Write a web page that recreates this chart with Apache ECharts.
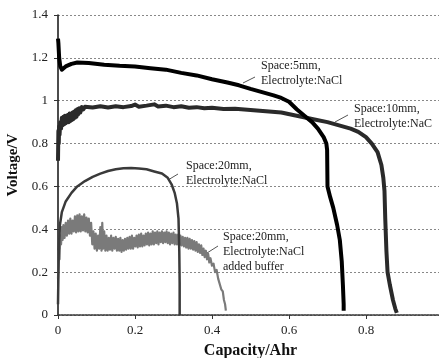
<!DOCTYPE html>
<html>
<head>
<meta charset="utf-8">
<script src="https://cdn.jsdelivr.net/npm/echarts@6/dist/echarts.min.js"></script>
<style>
  html, body { margin: 0; padding: 0; background: #fff; }
  #chart { width: 439px; height: 358px; }
</style>
</head>
<body>
<div id="chart"></div>
<script>
// capacity (Ahr) / voltage (V) pairs
const space5mm = [
  [0, 1.29], [0.001, 1.27], [0.003, 1.2], [0.006, 1.16], [0.01, 1.145], [0.02, 1.16],
  [0.035, 1.172], [0.05, 1.178], [0.08, 1.176], [0.12, 1.168], [0.16, 1.163], [0.2, 1.16],
  [0.24, 1.152], [0.28, 1.145], [0.32, 1.13], [0.36, 1.118], [0.4, 1.1], [0.44, 1.085],
  [0.47, 1.072], [0.5, 1.055], [0.53, 1.04], [0.56, 1.025], [0.58, 1.013], [0.6, 0.995],
  [0.62, 0.96], [0.64, 0.93], [0.66, 0.9], [0.675, 0.87], [0.69, 0.83], [0.697, 0.8],
  [0.699, 0.77], [0.7, 0.6], [0.707, 0.55], [0.715, 0.5], [0.725, 0.42], [0.732, 0.35],
  [0.737, 0.25], [0.74, 0.14], [0.742, 0.05], [0.742, 0.02]
]
const space10mm = [
  [0, 0.72], [0.001, 0.86], [0.002, 0.8], [0.003, 0.88], [0.004, 0.84], [0.006, 0.9],
  [0.008, 0.87], [0.01, 0.92], [0.012, 0.885], [0.014, 0.925], [0.016, 0.89], [0.018, 0.93],
  [0.02, 0.895], [0.022, 0.93], [0.024, 0.9], [0.026, 0.935], [0.028, 0.9], [0.03, 0.94],
  [0.032, 0.905], [0.034, 0.94], [0.036, 0.91], [0.038, 0.945], [0.04, 0.915], [0.042, 0.95],
  [0.044, 0.92], [0.046, 0.955], [0.048, 0.925], [0.05, 0.96], [0.052, 0.935], [0.055, 0.965],
  [0.058, 0.945], [0.062, 0.97], [0.066, 0.96], [0.07, 0.972], [0.09, 0.968], [0.11, 0.974],
  [0.13, 0.968], [0.15, 0.974], [0.17, 0.97], [0.19, 0.975], [0.2, 0.982], [0.21, 0.972],
  [0.23, 0.977], [0.25, 0.983], [0.26, 0.973], [0.28, 0.977], [0.3, 0.97], [0.32, 0.974],
  [0.34, 0.967], [0.36, 0.97], [0.38, 0.965], [0.4, 0.967], [0.43, 0.961], [0.46, 0.963],
  [0.5, 0.957], [0.54, 0.951], [0.58, 0.945], [0.62, 0.93], [0.66, 0.915], [0.7, 0.9],
  [0.73, 0.885], [0.76, 0.87], [0.78, 0.855], [0.8, 0.83], [0.815, 0.8], [0.83, 0.76],
  [0.84, 0.7], [0.845, 0.64], [0.848, 0.58], [0.85, 0.45], [0.853, 0.3], [0.856, 0.2],
  [0.862, 0.14], [0.87, 0.07], [0.876, 0.03], [0.88, 0.01]
]
const space20mm = [
  [0, 0.05], [0.002, 0.3], [0.005, 0.42], [0.01, 0.48], [0.02, 0.53], [0.035, 0.57],
  [0.05, 0.6], [0.07, 0.625], [0.09, 0.645], [0.11, 0.66], [0.13, 0.672], [0.15, 0.68],
  [0.17, 0.685], [0.19, 0.686], [0.21, 0.684], [0.23, 0.68], [0.25, 0.67], [0.27, 0.66],
  [0.285, 0.64], [0.295, 0.61], [0.303, 0.57], [0.309, 0.52], [0.313, 0.45], [0.315, 0.3],
  [0.316, 0.15], [0.316, 0]
]
const space20mmBuffer = [
  [0, 0.17], [0.002, 0.3], [0.004, 0.26], [0.006, 0.37], [0.008, 0.33], [0.01, 0.41],
  [0.012, 0.35], [0.014, 0.42], [0.017, 0.36], [0.02, 0.43], [0.023, 0.37], [0.026, 0.44],
  [0.029, 0.38], [0.032, 0.45], [0.035, 0.38], [0.038, 0.44], [0.041, 0.39], [0.044, 0.46],
  [0.047, 0.385], [0.05, 0.465], [0.053, 0.39], [0.056, 0.47], [0.059, 0.39], [0.062, 0.46],
  [0.065, 0.395], [0.068, 0.47], [0.071, 0.39], [0.074, 0.455], [0.077, 0.385], [0.08, 0.45],
  [0.083, 0.37], [0.086, 0.43], [0.089, 0.33], [0.092, 0.39], [0.095, 0.31], [0.098, 0.38],
  [0.101, 0.3], [0.104, 0.37], [0.107, 0.31], [0.11, 0.41], [0.113, 0.3], [0.115, 0.43],
  [0.117, 0.31], [0.12, 0.39], [0.123, 0.3], [0.126, 0.37], [0.129, 0.3], [0.132, 0.36],
  [0.135, 0.305], [0.138, 0.37], [0.141, 0.3], [0.144, 0.36], [0.147, 0.31], [0.15, 0.365],
  [0.153, 0.3], [0.156, 0.355], [0.159, 0.3], [0.162, 0.36], [0.165, 0.295], [0.168, 0.35],
  [0.171, 0.3], [0.174, 0.355], [0.177, 0.305], [0.18, 0.36], [0.183, 0.31], [0.186, 0.365],
  [0.189, 0.31], [0.192, 0.37], [0.195, 0.31], [0.198, 0.36], [0.201, 0.32], [0.204, 0.37],
  [0.207, 0.315], [0.21, 0.375], [0.213, 0.32], [0.216, 0.38], [0.219, 0.32], [0.222, 0.37],
  [0.225, 0.325], [0.228, 0.38], [0.231, 0.33], [0.234, 0.385], [0.237, 0.325], [0.24, 0.38],
  [0.243, 0.33], [0.246, 0.39], [0.249, 0.33], [0.252, 0.385], [0.255, 0.335], [0.258, 0.39],
  [0.261, 0.33], [0.264, 0.385], [0.267, 0.34], [0.27, 0.39], [0.273, 0.335], [0.276, 0.385],
  [0.279, 0.34], [0.282, 0.39], [0.285, 0.335], [0.288, 0.385], [0.291, 0.33], [0.294, 0.38],
  [0.297, 0.335], [0.3, 0.385], [0.303, 0.33], [0.306, 0.375], [0.309, 0.33], [0.312, 0.375],
  [0.315, 0.325], [0.318, 0.37], [0.321, 0.325], [0.324, 0.365], [0.327, 0.32], [0.33, 0.36],
  [0.333, 0.315], [0.336, 0.36], [0.339, 0.31], [0.342, 0.355], [0.345, 0.31], [0.348, 0.35],
  [0.351, 0.305], [0.354, 0.345], [0.357, 0.3], [0.36, 0.34], [0.363, 0.295], [0.366, 0.33],
  [0.369, 0.29], [0.372, 0.325], [0.375, 0.28], [0.378, 0.31], [0.381, 0.27], [0.384, 0.3],
  [0.387, 0.26], [0.39, 0.285], [0.393, 0.245], [0.396, 0.265], [0.4, 0.23], [0.404, 0.24],
  [0.408, 0.2], [0.412, 0.21], [0.416, 0.17], [0.42, 0.165], [0.424, 0.12], [0.428, 0.11],
  [0.431, 0.07], [0.434, 0.05], [0.436, 0.02]
]

const serif = '"Liberation Serif", "DejaVu Serif", serif'

const myChart = echarts.init(document.getElementById('chart'))

const line = (data, color, width) => ({
  type: 'line',
  data,
  showSymbol: false,
  silent: true,
  lineStyle: { color, width, join: 'round' },
  z: 3
})

// 标注文字 + 引线
const note = (x, y, lines) => ({
  type: 'text',
  left: x,
  top: y,
  style: { text: lines.join('\n'), font: '12px ' + serif, fill: '#222', lineHeight: 15 }
})
const lead = (x1, y1, x2, y2) => ({
  type: 'line',
  shape: { x1, y1, x2, y2 },
  style: { stroke: '#555', lineWidth: 1 }
})

myChart.setOption({
  animation: false,
  grid: { left: 58, top: 15, width: 385, height: 300, outerBoundsMode: 'none' },
  xAxis: {
    type: 'value',
    min: 0,
    max: 1,
    interval: 0.2,
    name: 'Capacity/Ahr',
    nameLocation: 'middle',
    nameGap: 28,
    nameTextStyle: { fontFamily: serif, fontWeight: 'bold', fontSize: 16, color: '#111' },
    axisLine: { show: true, lineStyle: { color: '#333', width: 1.5, type: [2, 1] } },
    axisTick: { show: true, length: 4, lineStyle: { color: '#333' } },
    axisLabel: { fontFamily: serif, fontSize: 13, color: '#222', margin: 9 },
    splitLine: { show: false }
  },
  yAxis: {
    type: 'value',
    min: 0,
    max: 1.4,
    interval: 0.2,
    name: 'Voltage/V',
    nameLocation: 'middle',
    nameGap: 33,
    nameTextStyle: { fontFamily: serif, fontWeight: 'bold', fontSize: 15, color: '#111' },
    axisLine: { show: true, lineStyle: { color: '#111', width: 1.5 } },
    axisTick: { show: true, length: 4, lineStyle: { color: '#333' } },
    axisLabel: { fontFamily: serif, fontSize: 13, color: '#222', margin: 10 },
    splitLine: { show: true, lineStyle: { color: '#888', width: 1, type: [2, 2] } }
  },
  series: [
    line(space20mmBuffer, '#7a7a7a', 2.2),
    line(space20mm, '#3a3a3a', 2.5),
    line(space10mm, '#2a2a2a', 4),
    line(space5mm, '#000', 4)
  ],
  graphic: [
    note(261, 58, ['Space:5mm,', 'Electrolyte:NaCl']),
    lead(243, 83, 255, 77),
    note(354, 101, ['Space:10mm,', 'Electrolyte:NaC']),
    lead(335, 122, 348, 115),
    note(186, 158, ['Space:20mm,', 'Electrolyte:NaCl']),
    lead(168, 180, 178, 174),
    note(223, 229, ['Space:20mm,', 'Electrolyte:NaCl', 'added buffer']),
    lead(207, 253, 218, 246)
  ]
})

window.addEventListener('resize', () => {
  myChart.resize()
})
</script>
</body>
</html>
